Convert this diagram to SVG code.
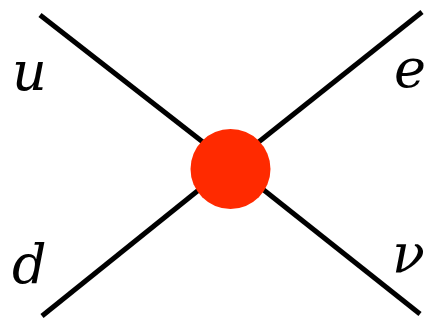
<svg xmlns="http://www.w3.org/2000/svg" width="424" height="321" viewBox="0 0 424 321">
<style>
.leg{stroke:#000;stroke-width:5;fill:none}
.lbl{font-family:'DejaVu Serif',serif;font-style:italic;font-size:54px;fill:#000}
</style>
<rect width="424" height="321" fill="#fff"/>
<g id="connectors">
<line class="leg" x1="40" y1="15" x2="231" y2="164"/>
<line class="leg" x1="422" y1="12" x2="231" y2="164"/>
<line class="leg" x1="42" y1="316" x2="231" y2="164"/>
<line class="leg" x1="420" y1="314" x2="231" y2="164"/>
</g>
<g id="vertex"><circle cx="230.5" cy="169" r="40" fill="#ff2a00"/></g>
<g id="u"><text class="lbl" x="12" y="90">u</text></g>
<g id="e"><text class="lbl" x="394" y="87">e</text></g>
<g id="d"><text class="lbl" x="12" y="283">d</text></g>
<g id="nu"><text class="lbl" x="392" y="272">ν</text></g>
</svg>
